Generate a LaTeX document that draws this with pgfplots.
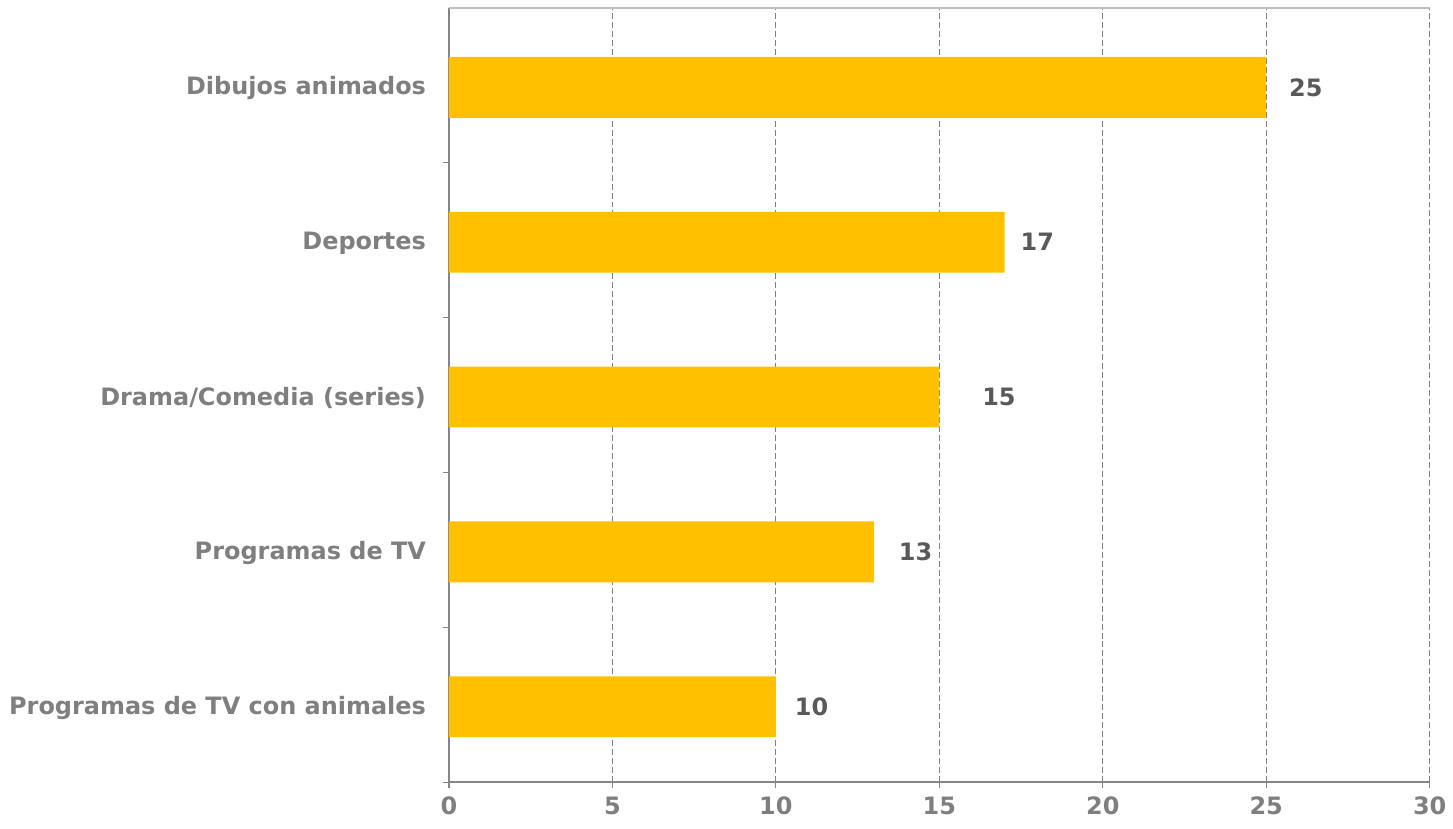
\documentclass[border=0pt]{standalone}
\usepackage{fontspec}
\setmainfont{DejaVu Sans}
\usepackage{pgfplots}
\usepackage{pgfplotstable}
\pgfplotsset{compat=1.18}
\definecolor{barc}{HTML}{FFC000}
\definecolor{labc}{HTML}{7F7F7F}
\definecolor{valc}{HTML}{595959}
\definecolor{axc}{HTML}{868686}
\definecolor{gridc}{HTML}{7F7F7F}
\definecolor{topc}{HTML}{BFBFBF}
\pgfplotstableread{
y x off
5 25 8
4 17 4.5
3 15 18
2 13 9
1 10 6
}\datatable
\begin{document}
\begin{tikzpicture}
\begin{axis}[
  scale only axis,
  width=491.5pt, height=388pt,
  xmin=0, xmax=30, ymin=0.5, ymax=5.5,
  xtick={0,5,...,30},
  ytick={1,2,3,4,5},
  yticklabels={Programas de TV con animales, Programas de TV, Drama/Comedia (series), Deportes, Dibujos animados},
  minor ytick={0.5,1.5,2.5,3.5,4.5},
  tick align=outside,
  xtick pos=bottom, ytick pos=left,
  major tick length=3pt,
  minor tick length=3pt,
  y tick style={draw=none},
  minor y tick style={draw=axc, line width=0.6pt},
  x tick style={draw=axc, line width=0.6pt},
  xmajorgrids,
  major x grid style={dash pattern=on 3pt off 1.5pt, gridc, line width=0.6pt},
  axis x line*=bottom, axis y line*=left,
  separate axis lines,
  every outer x axis line/.append style={axc, line width=1pt},
  every outer y axis line/.append style={axc, line width=1pt},
  ticklabel style={font=\fontsize{12}{14}\selectfont\bfseries, text=labc},
  yticklabel style={xshift=-5pt, yshift=-1.5pt},
  xticklabel style={yshift=-1pt},
  /pgf/number format/assume math mode=true,
  clip=false,
  xbar, bar width=30.5pt,
  visualization depends on={\thisrow{off} \as \off},
  nodes near coords,
  point meta=explicit,
  nodes near coords style={anchor=west, xshift=\off*1pt, yshift=0pt, font=\fontsize{12}{14}\selectfont\bfseries, text=valc},
]
\addplot[fill=barc, draw=none, bar shift=-1pt] table[x=x, y=y, meta=x] {\datatable};
\draw[topc, line width=1pt] (rel axis cs:0,1) -- (rel axis cs:1,1);
\coordinate (sw) at (rel axis cs:0,0);
\coordinate (ne) at (rel axis cs:1,1);
\end{axis}
\path ([shift={(-225pt,-23pt)}]sw) rectangle ([shift={(10pt,4pt)}]ne);
\end{tikzpicture}
\end{document}
